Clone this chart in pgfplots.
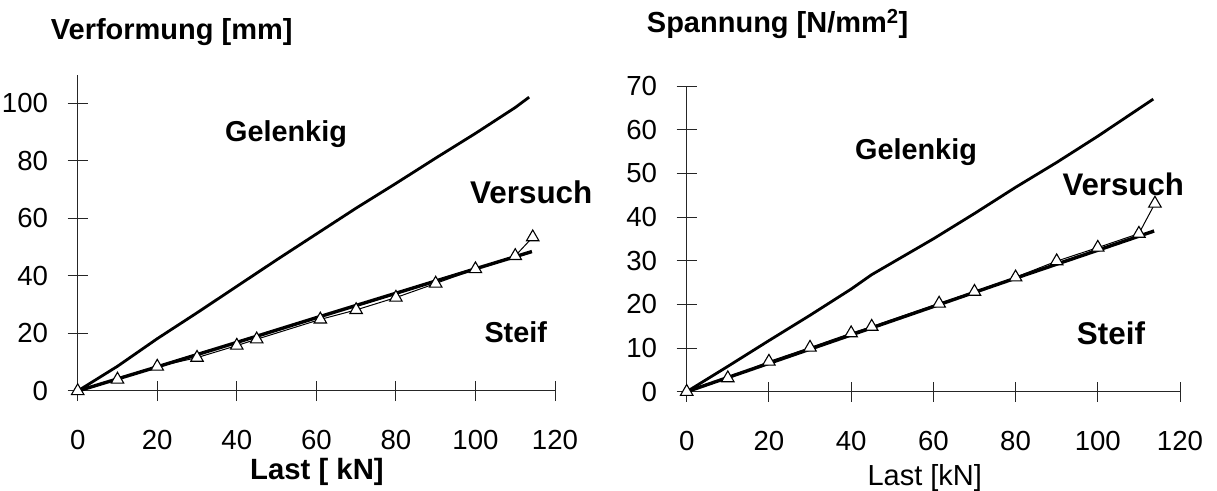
\documentclass[border=0pt]{standalone}
\usepackage{fontspec}
\setmainfont{Liberation Sans}
\usepackage{pgfplots}
\pgfplotsset{compat=1.18}
\begin{document}
\begin{tikzpicture}
\useasboundingbox (0,0) rectangle (1217bp,491bp);
\pgfplotsset{
  every axis/.append style={
    scale only axis,
    axis lines=left,
    axis line style={-, line width=1bp, black!85},
    every tick/.style={black!85, line width=1bp},
    major tick length=20bp,
    tick align=center,
    clip=false,
    xmin=0, xmax=120,
    xtick={0,20,...,120},
    /pgf/number format/assume math mode=true,
    tick label style={font=\fontsize{27.6bp}{33bp}\selectfont},
    xticklabel style={anchor=north, inner sep=0pt, yshift=-29bp},
    yticklabel style={anchor=east, inner sep=0pt, xshift=-19.5bp},
  },
  gel/.style={black, line width=2.8bp, no marks},
  stf/.style={black, line width=3.4bp, no marks},
  ver/.style={black, line width=1bp, mark=triangle*, mark size=7.2bp,
    mark options={fill=white, draw=black, line width=1.1bp}},
}
% Left: Verformung
\begin{axis}[at={(77.7bp,100bp)}, anchor=south west,
  width=477.3bp, height=316.25bp,
  ymin=0, ymax=110, ytick={0,20,...,100}]
\addplot[gel] coordinates {(0,0) (10,8.6) (20,18.2) (30,27.2) (40,36.4) (50,45.6) (60,54.6) (70,63.6) (80,72.2) (90,81) (100,89.6) (110,98.6) (113.5,102.2)};
\addplot[stf] coordinates {(0,0) (20,8.4) (40,16.9) (60,25.5) (80,34) (100,42.5) (114.2,48.5)};
\addplot[ver] coordinates {(0,0) (10,4.0) (20,8.5) (30,11.6) (40,15.8) (45,18.0) (61,24.9) (70,28.2) (80,32.5) (90,37.4) (100,42.4) (110,47.0) (114.4,53.5)};
\end{axis}
% Right: Spannung
\begin{axis}[at={(686.7bp,99.3bp)}, anchor=south west,
  width=493.3bp, height=305.7bp,
  ymin=0, ymax=70, ytick={0,10,...,70}]
\addplot[gel] coordinates {(0,0) (10,5.8) (20,11.7) (30,17.5) (40,23.5) (45,26.8) (60,35) (70,40.8) (80,46.8) (90,52.5) (100,58.5) (110,64.8) (113.5,67)};
\addplot[stf] coordinates {(0,0) (20,6.5) (40,13) (60,19.5) (80,26) (100,32.4) (113.7,36.8)};
\addplot[ver] coordinates {(0,0) (10,3.1) (20,6.9) (30,10.1) (40,13.4) (45,14.9) (61.4,20.2) (70,22.9) (80,26.2) (90,29.9) (100,33.0) (110,36.2) (113.9,43.1)};
\end{axis}
% Titles and labels
\node[anchor=base west, inner sep=0pt, font=\fontsize{29bp}{34bp}\selectfont\bfseries] at (50.7bp,451.7bp) {Verformung [mm]};
\node[anchor=base west, inner sep=0pt, font=\fontsize{29bp}{34bp}\selectfont\bfseries] at (646.7bp,458.7bp) {Spannung [N/mm\textsuperscript{2}]};
\node[anchor=base west, inner sep=0pt, font=\fontsize{29.3bp}{34bp}\selectfont\bfseries] at (250bp,11.7bp) {Last [ kN]};
\node[anchor=base west, inner sep=0pt, font=\fontsize{29bp}{34bp}\selectfont] at (867.3bp,6bp) {Last [kN]};
\node[anchor=base west, inner sep=0pt, font=\fontsize{28.8bp}{34bp}\selectfont\bfseries] at (225bp,349.3bp) {Gelenkig};
\node[anchor=base west, inner sep=0pt, font=\fontsize{31.4bp}{36bp}\selectfont\bfseries] at (470bp,287bp) {Versuch};
\node[anchor=base west, inner sep=0pt, font=\fontsize{28.8bp}{34bp}\selectfont\bfseries] at (484.3bp,148.3bp) {Steif};
\node[anchor=base west, inner sep=0pt, font=\fontsize{28.8bp}{34bp}\selectfont\bfseries] at (855bp,331.7bp) {Gelenkig};
\node[anchor=base west, inner sep=0pt, font=\fontsize{31.2bp}{36bp}\selectfont\bfseries] at (1062.3bp,295.3bp) {Versuch};
\node[anchor=base west, inner sep=0pt, font=\fontsize{31.4bp}{36bp}\selectfont\bfseries] at (1076.7bp,146bp) {Steif};
\end{tikzpicture}
\end{document}
